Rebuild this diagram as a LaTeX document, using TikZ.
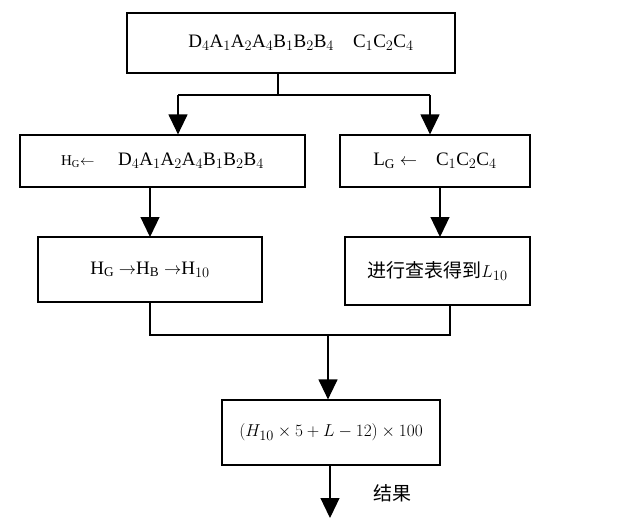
\documentclass[tikz,border=0pt]{standalone}
\usepackage{fontspec}
\setmainfont{Liberation Serif}
\newfontfamily\cjk{Noto Sans CJK SC}
\usetikzlibrary{arrows.meta}
\begin{document}
\begin{tikzpicture}[x=1pt,y=-1pt,
  box/.style={draw,line width=1.2pt,inner sep=0pt},
  arr/.style={line width=1.2pt,-{Triangle[length=20pt,width=19pt]}},
  ln/.style={line width=1.2pt},
  font=\fontsize{19}{22}\selectfont]
\useasboundingbox (0,0) rectangle (624,528);
\node[box,minimum width=328,minimum height=60] (t) at (291,43) {\hspace*{20pt}D$_4$A$_1$A$_2$A$_4$B$_1$B$_2$B$_4$\quad C$_1$C$_2$C$_4$};
\node[box,minimum width=285,minimum height=52] (l1) at (162.5,161) {{\fontsize{15}{17}\selectfont H$_{\mathrm G}$$\leftarrow$}\quad\ D$_4$A$_1$A$_2$A$_4$B$_1$B$_2$B$_4$};
\node[box,minimum width=190,minimum height=52] (r1) at (435,161) {L$_{\mathrm G}$ $\leftarrow$\quad C$_1$C$_2$C$_4$};
\node[box,minimum width=224,minimum height=65] (l2) at (150,269.5) {H$_{\mathrm G}$ $\rightarrow$H$_{\mathrm B}$ $\rightarrow$H$_{10}$};
\node[box,minimum width=185,minimum height=68] (r2) at (437.5,271) {{\cjk 进行查表得到}$L_{10}$};
\node[box,minimum width=218,minimum height=65] (b) at (331,432.5) {$(H_{10}\times5+L-12)\times100$};
\node (res) at (392,493) {\cjk 结果};
\coordinate (j1) at (278,95);
\coordinate (ja) at (178,95);
\coordinate (jb) at (430,95);
\draw[ln] (t.south -| j1) -- (j1);
\draw[ln] (ja) -- (jb);
\draw[arr] (ja) -- (ja |- l1.north);
\draw[arr] (jb) -- (jb |- r1.north);
\draw[arr] (150,187) -- (150,237);
\draw[arr] (440,187) -- (440,237);
\coordinate (ka) at (150,335);
\coordinate (kb) at (450,335);
\draw[ln] (l2.south -| ka) -- (ka) -- (kb) -- (r2.south -| kb);
\draw[arr] (328,335) -- (b.north -| 328,0);
\draw[arr] (b.south -| 330,0) -- (330,518);
\end{tikzpicture}
\end{document}
